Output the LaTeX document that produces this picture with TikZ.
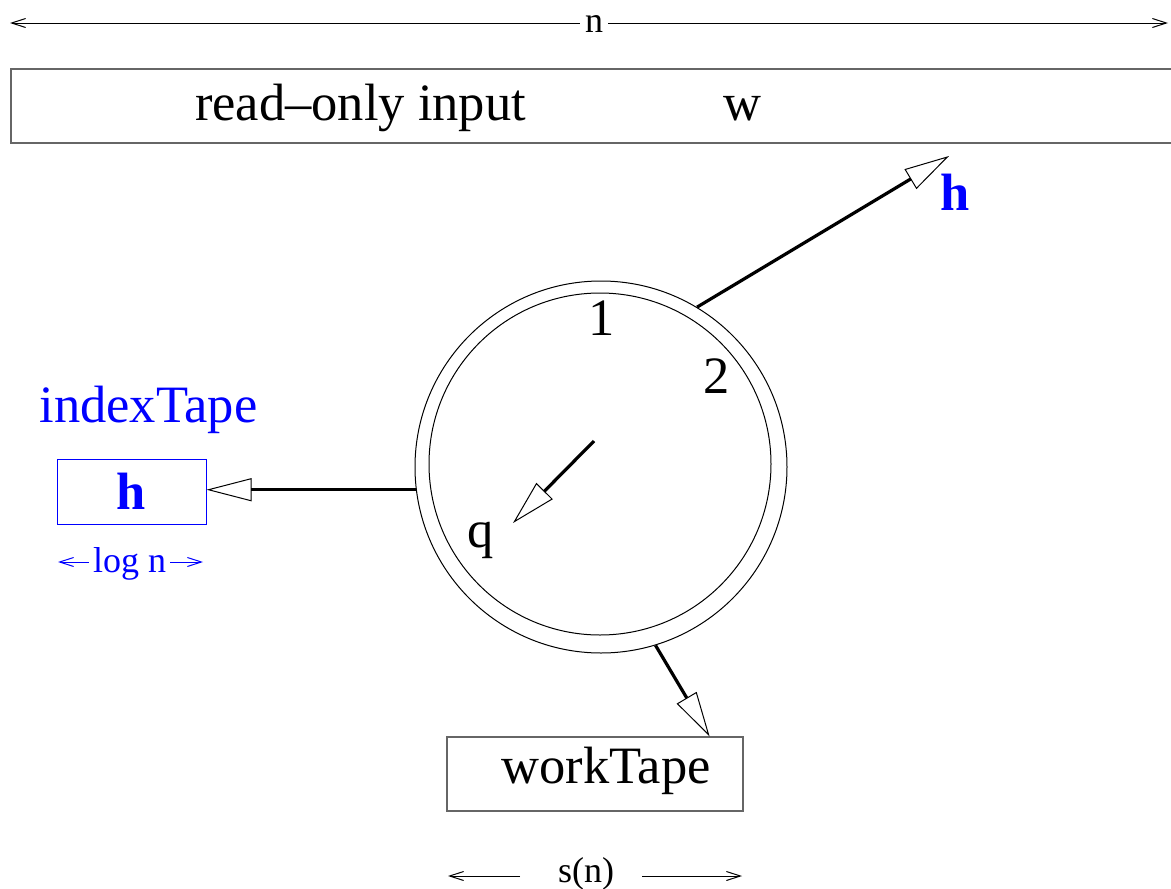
\documentclass[tikz,border=0pt]{standalone}
\usepackage{fontspec}
\setmainfont{Liberation Serif}
\usetikzlibrary{arrows.meta}
\begin{document}
\begin{tikzpicture}[x=1pt,y=-1pt,
  big/.style={font=\fontsize{52.5}{60}\selectfont, inner sep=0pt},
  bigbold/.style={font=\fontsize{52.5}{60}\selectfont\bfseries, inner sep=0pt},
  small/.style={font=\fontsize{36}{42}\selectfont, inner sep=0pt},
  tape/.style={draw=black!60, line width=1.2pt, inner sep=0pt},
  thinline/.style={line width=1pt},
  bigarrow/.style={line width=3.2pt, -{Triangle[open,length=45pt,width=23pt,line width=1pt]}},
  stick/.style={line width=1pt, -{Straight Barb[length=14pt,width=9pt,line width=1pt]}}
]
\useasboundingbox (0,0) rectangle (1171,889);

% top dimension n
\node[small, anchor=base, inner xsep=5pt] (n) at (594,32) {n};
\coordinate (nl) at (10,23);
\coordinate (nr) at (1168,23);
\draw[stick] (n.west |- nl) -- (nl);
\draw[stick] (n.east |- nr) -- (nr);

% input tape
\node[tape, minimum width=1164pt, minimum height=74pt] (input) at (593,106) {};
\node[big, anchor=base] (ro) at (360.5,120) {read–only input};
\node[big, anchor=base] (w) at (742,120) {w};

% control
\node[draw, thinline, circle, minimum size=372pt, inner sep=0pt] (ctrl) at (601,467) {};
\node[draw, thinline, circle, minimum size=342pt, inner sep=0pt] (core) at (600,464) {};
\node[big, anchor=base] (one) at (602,335) {1};
\node[big, anchor=base] (two) at (717,393) {2};
\node[big, anchor=base] (q) at (481,547) {q};
\coordinate (qs) at (594,441);
\coordinate (qt) at (513,523);
\draw[bigarrow] (qs) -- (qt);

% head on input
\coordinate (htip) at (949,156);
\node[bigbold, text=blue, anchor=base] (hl) at (955.5,210) {h};
\draw[bigarrow] (ctrl.59) -- (htip);

% index tape
\node[big, text=blue, anchor=base] (itl) at (148.5,422) {indexTape};
\node[draw=blue, line width=1pt, minimum width=149pt, minimum height=65pt, bigbold, text=blue] (idx) at (131.5,491.5) {h};
\draw[bigarrow] (ctrl.187.4) -- (ctrl.187.4 -| idx.east);
\node[small, text=blue, anchor=base, inner xsep=4pt] (logn) at (129.5,572) {log n};
\coordinate (lnl) at (58,562);
\coordinate (lnr) at (203,562);
\draw[stick, blue] (logn.west |- lnl) -- (lnl);
\draw[stick, blue] (logn.east |- lnr) -- (lnr);

% work tape
\node[tape, minimum width=296pt, minimum height=74pt] (wt) at (595,774) {};
\node[big, anchor=base] (wtl) at (606,783) {workTape};
\draw[bigarrow] (ctrl.287) -- ([xshift=-34pt]wt.north east);

% s(n)
\node[small, anchor=base] (sn) at (586,882) {s(n)};
\coordinate (snla) at (520,876);
\coordinate (snlb) at (448,876);
\coordinate (snra) at (642,876);
\coordinate (snrb) at (742,876);
\draw[stick] (snla) -- (snlb);
\draw[stick] (snra) -- (snrb);
\end{tikzpicture}
\end{document}
